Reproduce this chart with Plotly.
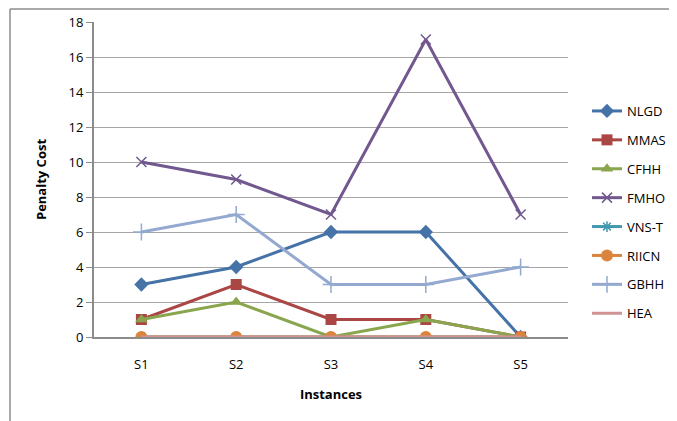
import plotly.graph_objects as go

categories = ["S1", "S2", "S3", "S4", "S5"]
series_names = ["NLGD", "MMAS", "CFHH", "FMHO", "VNS-T", "RIICN", "GBHH", "HEA"]
nlgd = [3, 4, 6, 6, 0]
mmas = [1, 3, 1, 1, 0]
cfhh = [1, 2, 0, 1, 0]
fmho = [10, 9, 7, 17, 7]
vnst = [0, 0, 0, 0, 0]
riicn = [0, 0, 0, 0, 0]
gbhh = [6, 7, 3, 3, 4]
hea = [0, 0, 0, 0, 0]
y_ticks = [0, 2, 4, 6, 8, 10, 12, 14, 16, 18]

values = [nlgd, mmas, cfhh, fmho, vnst, riicn, gbhh, hea]
colors = ["#4572A7", "#AA4643", "#89A54E", "#71588F", "#4198AF", "#DB843D", "#93A9CF", "#D19392"]
symbols = ["diamond", "square", "triangle-up", "x-thin-open", "asterisk-open", "circle", "cross-thin-open", None]
sizes = [11, 11, 11, 10, 9, 12, 12, 0]

FONT = "'Open Sans', sans-serif"

fig = go.Figure()
for name, vals, col, sym, sz in zip(series_names, values, colors, symbols, sizes):
    if sym is None:
        mode = "lines"
        marker = None
    else:
        mode = "lines+markers"
        if sym.endswith("-open"):
            marker = dict(symbol=sym, size=sz, color=col, line=dict(color=col, width=1.5))
        else:
            marker = dict(symbol=sym, size=sz, color=col, line=dict(width=0))
    fig.add_trace(go.Scatter(
        x=categories, y=vals, name=name, mode=mode,
        line=dict(color=col, width=3),
        marker=marker, legendgroup=name,
    ))

# page body has an 8px margin; compensate so the plot lands where intended
OFF = 8
L, R, T, B = 94, 568, 22, 337   # target plot-area edges in window pixels
W, H = R - L, B - T
FW, FH = 677 - OFF, 421 - OFF
fig.add_shape(type="line", xref="paper", yref="paper",
              x0=(10 - L) / W, x1=(10 - L) / W, y0=(B - 440) / H, y1=(B - 9) / H,
              line=dict(color="#8c8c8c", width=1.5))
fig.add_shape(type="line", xref="paper", yref="paper",
              x0=(10 - L) / W, x1=(700 - L) / W, y0=(B - 9) / H, y1=(B - 9) / H,
              line=dict(color="#8c8c8c", width=1.5))

fig.update_layout(
    width=FW, height=FH,
    margin=dict(l=L - OFF, r=677 - R, t=T - OFF, b=421 - B, autoexpand=False),
    paper_bgcolor="white", plot_bgcolor="white",
    font=dict(family=FONT, size=13, color="#000"),
    showlegend=True,
    legend=dict(xref="container", yref="container",
                x=(587 - OFF) / FW, y=1 - (96 - OFF) / FH,
                xanchor="left", yanchor="top", maxheight=320,
                font=dict(family=FONT, size=13), tracegroupgap=9,
                itemwidth=30, bgcolor="rgba(0,0,0,0)"),
    xaxis=dict(
        type="category", range=[-0.5, 4.5], automargin=False,
        showgrid=False, showline=True, linecolor="#8c8c8c", linewidth=2,
        ticks="outside", ticklen=14, tickcolor="rgba(0,0,0,0)",
        tickfont=dict(size=13),
        title=dict(text="<b>Instances</b>", font=dict(size=13), standoff=18),
        zeroline=False,
    ),
    yaxis=dict(
        range=[0, 18], tickvals=y_ticks, automargin=False,
        showgrid=True, gridcolor="#a6a6a6", gridwidth=1,
        showline=True, linecolor="#8c8c8c", linewidth=2,
        ticks="outside", ticklen=6, tickcolor="#8c8c8c",
        tickfont=dict(size=13),
        title=dict(text="<b>Penalty Cost</b>", font=dict(size=13), standoff=19),
        zeroline=False,
    ),
)

fig.write_html("out.html")
